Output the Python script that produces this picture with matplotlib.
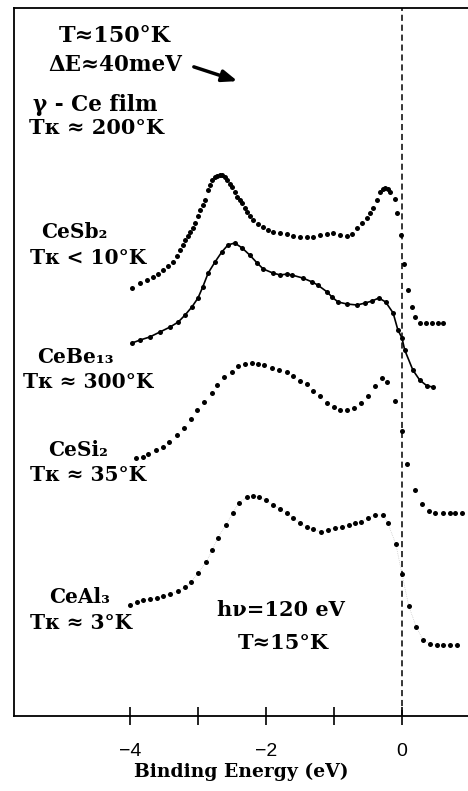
import numpy as np
import matplotlib.pyplot as plt

# Binding energy (eV) and intensity (arb. units)
ce_sb2_e = [-3.97, -3.85, -3.75, -3.66, -3.59, -3.51, -3.44, -3.37, -3.31, -3.26, -3.22, -3.19, -3.15,
            -3.12, -3.07, -3.04, -3.00, -2.97, -2.93, -2.90, -2.85, -2.82, -2.79, -2.75, -2.72, -2.68,
            -2.65, -2.60, -2.57, -2.53, -2.50, -2.46, -2.43, -2.38, -2.35, -2.31, -2.28, -2.24, -2.19,
            -2.12, -2.04, -1.97, -1.90, -1.79, -1.69, -1.60, -1.50, -1.40, -1.31, -1.21, -1.10, -1.01,
            -0.91, -0.81, -0.74, -0.66, -0.59, -0.51, -0.47, -0.43, -0.37, -0.32, -0.28, -0.25, -0.21,
            -0.18, -0.10, -0.07, -0.01, 0.03, 0.09, 0.15, 0.19, 0.26, 0.35, 0.44, 0.53, 0.60]
ce_sb2_i = [428, 433, 436, 439, 442, 446, 450, 454, 460, 466, 471, 476, 480,
            484, 488, 493, 500, 506, 511, 516, 526, 531, 536, 539, 540, 541,
            541, 539, 536, 532, 529, 524, 519, 516, 513, 508, 504, 500, 496,
            492, 489, 486, 484, 483, 482, 480, 479, 479, 479, 481, 482, 483,
            481, 480, 482, 488, 493, 498, 503, 508, 516, 524, 527, 528, 527,
            524, 517, 503, 481, 452, 426, 409, 399, 393, 393, 393, 393, 393]

ce_be13_e = [-3.97, -3.85, -3.71, -3.56, -3.41, -3.29, -3.19, -3.09, -3.00, -2.93, -2.85, -2.75, -2.65,
             -2.56, -2.46, -2.35, -2.24, -2.13, -2.04, -1.90, -1.79, -1.69, -1.62, -1.46, -1.32, -1.24,
             -1.10, -1.03, -0.94, -0.81, -0.66, -0.54, -0.44, -0.34, -0.24, -0.13, -0.06, 0.00, 0.04,
             0.16, 0.26, 0.37, 0.46]
ce_be13_i = [373, 376, 379, 384, 389, 394, 401, 409, 418, 429, 443, 454, 464,
             471, 473, 468, 461, 453, 447, 443, 441, 442, 441, 438, 434, 431,
             424, 419, 414, 412, 411, 413, 415, 418, 414, 403, 386, 378, 366,
             346, 336, 330, 329]

ce_si2_e = [-3.91, -3.81, -3.74, -3.62, -3.51, -3.43, -3.31, -3.21, -3.10, -3.01, -2.91, -2.79, -2.72,
            -2.62, -2.50, -2.41, -2.31, -2.21, -2.12, -2.03, -1.91, -1.81, -1.69, -1.60, -1.50, -1.40,
            -1.31, -1.21, -1.10, -1.00, -0.91, -0.81, -0.71, -0.60, -0.50, -0.40, -0.29, -0.22, -0.10,
            0.00, 0.07, 0.19, 0.29, 0.40, 0.49, 0.60, 0.71, 0.78, 0.88]
ce_si2_i = [258, 259, 262, 266, 269, 274, 281, 288, 297, 306, 314, 323, 331,
            339, 344, 350, 352, 353, 352, 351, 348, 346, 344, 340, 335, 332,
            325, 320, 313, 309, 306, 306, 308, 313, 320, 330, 338, 334, 315,
            285, 252, 226, 212, 205, 203, 203, 203, 203, 203]

ce_al3_e = [-4.00, -3.90, -3.81, -3.71, -3.60, -3.51, -3.41, -3.29, -3.19, -3.10, -3.00, -2.88, -2.79,
            -2.71, -2.59, -2.49, -2.40, -2.28, -2.19, -2.10, -2.00, -1.90, -1.79, -1.69, -1.60, -1.50,
            -1.40, -1.31, -1.19, -1.09, -0.99, -0.88, -0.78, -0.69, -0.60, -0.50, -0.40, -0.28, -0.21,
            -0.09, 0.00, 0.10, 0.21, 0.31, 0.41, 0.51, 0.60, 0.71, 0.81]
ce_al3_i = [111, 114, 116, 117, 118, 120, 122, 125, 129, 134, 143, 154, 166,
            178, 191, 203, 213, 219, 220, 219, 216, 211, 207, 203, 198, 193,
            189, 187, 184, 186, 188, 189, 191, 193, 194, 198, 201, 201, 193,
            172, 142, 110, 89, 76, 72, 71, 71, 71, 71]

x_ticks = [-4, -3, -2, -1, 0]
x_ticklabels = ['\u22124', '', '\u22122', '', '0']

serif = ['DejaVu Serif', 'DejaVu Sans']

fig = plt.figure(figsize=(4.68, 7.91), dpi=100)
ax = fig.add_axes([14 / 468, 1 - 716 / 791, 1 - 14 / 468, 708 / 791])

ms = 3.6
ax.plot(ce_sb2_e, ce_sb2_i, 'o', color='black', ms=ms, mew=0)
ax.plot(ce_be13_e, ce_be13_i, '-o', color='black', ms=ms, mew=0, lw=1.2)
ax.plot(ce_si2_e, ce_si2_i, 'o', color='black', ms=ms, mew=0)
ax.plot(ce_al3_e, ce_al3_i, ':', color='#bbbbbb', lw=0.5)
ax.plot(ce_al3_e, ce_al3_i, 'o', color='black', ms=ms, mew=0)

ax.axvline(0, color='black', lw=1.1, ls=(0, (4, 2.5)))

ax.set_xlim(-5.706, 0.971)
ax.set_ylim(0, 708)
ax.set_yticks([])
ax.set_xticks(x_ticks)
ax.set_xticklabels(x_ticklabels, family='Liberation Sans', fontsize=14)
ax.tick_params(axis='x', direction='inout', length=13, width=1.2, pad=13)
ax.spines['right'].set_visible(False)
for s in ['left', 'bottom', 'top']:
    ax.spines[s].set_linewidth(1.3)

ax.set_xlabel('Binding Energy (eV)', family=serif, fontweight='bold', fontsize=13.5, labelpad=2)

# annotations
txt = dict(family=serif, fontweight='bold', ha='center', va='center')
ax.text(-4.22, 680, 'T\u2248150\u00b0K', fontsize=16, **txt)
ax.text(-4.21, 651, '\u0394E\u224840meV', fontsize=15.5, **txt)
ax.annotate('', xy=(-2.38, 634), xytext=(-3.10, 650),
            arrowprops=dict(arrowstyle='-|>,head_length=0.9,head_width=0.35', color='black', lw=2.5))
ax.text(-4.51, 611, '\u03b3 - Ce film', fontsize=15.5, **txt)
ax.text(-4.49, 588, 'T\u043a \u2248 200\u00b0K', fontsize=15, **txt)

ax.text(-4.82, 484, 'CeSb\u2082', fontsize=14.5, **txt)
ax.text(-4.62, 458, 'T\u043a < 10\u00b0K', fontsize=14.5, **txt)
ax.text(-4.81, 359, 'CeBe\u2081\u2083', fontsize=14.5, **txt)
ax.text(-4.62, 334, 'T\u043a \u2248 300\u00b0K', fontsize=14.5, **txt)
ax.text(-4.76, 266, 'CeSi\u2082', fontsize=14.5, **txt)
ax.text(-4.62, 241, 'T\u043a \u2248 35\u00b0K', fontsize=14.5, **txt)
ax.text(-4.74, 119, 'CeAl\u2083', fontsize=14.5, **txt)
ax.text(-4.72, 93, 'T\u043a \u2248 3\u00b0K', fontsize=14.5, **txt)

ax.text(-1.78, 106, 'h\u03bd=120 eV', fontsize=15, **txt)
ax.text(-1.75, 73, 'T\u224815\u00b0K', fontsize=15, **txt)

fig.savefig('out.png', dpi=100)
